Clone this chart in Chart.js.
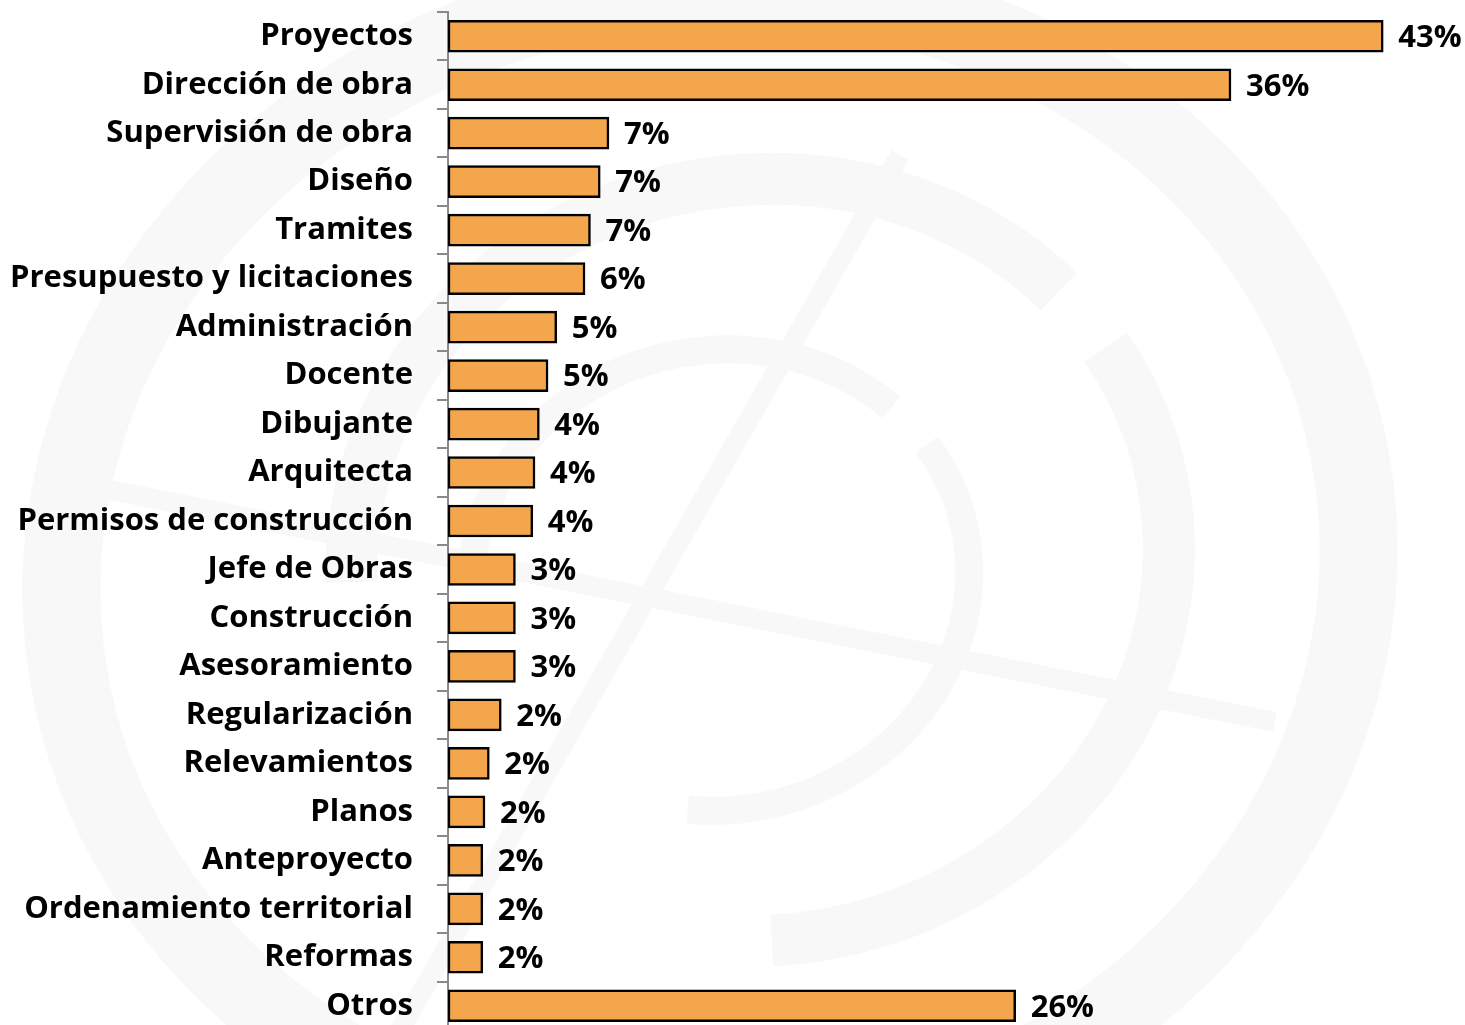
<!DOCTYPE html>
<html>
<head>
<meta charset="utf-8">
<script src="https://cdn.jsdelivr.net/npm/chart.js@4/dist/chart.umd.min.js"></script>
<style>
  html, body { margin: 0; padding: 0; background: #ffffff; overflow: hidden; }
  #wrap { position: absolute; left: 0; top: 0; width: 1465px; height: 1030px; }
</style>
</head>
<body>
<div id="wrap"><canvas id="c" width="1465" height="1030"></canvas></div>
<script>
const categories = [
  "Proyectos", "Dirección de obra", "Supervisión de obra", "Diseño", "Tramites",
  "Presupuesto y licitaciones", "Administración", "Docente", "Dibujante", "Arquitecta",
  "Permisos de construcción", "Jefe de Obras", "Construcción", "Asesoramiento",
  "Regularización", "Relevamientos", "Planos", "Anteproyecto",
  "Ordenamiento territorial", "Reformas", "Otros"
];
const percentages = [
  43.0, 36.0, 7.4, 7.0, 6.55,
  6.3, 5.0, 4.6, 4.2, 4.0,
  3.9, 3.1, 3.1, 3.1,
  2.45, 1.9, 1.7, 1.6,
  1.6, 1.6, 26.1
];

const FONT = "'Open Sans', Lato, sans-serif";

const watermark = {
  id: 'watermark',
  beforeDraw(chart) {
    const ctx = chart.ctx;
    ctx.save();
    ctx.strokeStyle = '#f8f8f8';
    ctx.lineCap = 'butt';
    ctx.lineWidth = 78;
    ctx.beginPath();
    ctx.ellipse(710, 570, 650, 580, -0.15, 0, Math.PI * 2);
    ctx.stroke();
    ctx.lineWidth = 52;
    ctx.beginPath();
    ctx.ellipse(760, 560, 410, 380, -0.2, Math.PI * 1.05, Math.PI * 1.82);
    ctx.stroke();
    ctx.beginPath();
    ctx.ellipse(760, 560, 410, 380, -0.2, Math.PI * 1.88, Math.PI * 2.55);
    ctx.stroke();
    ctx.lineWidth = 28;
    ctx.beginPath();
    ctx.ellipse(720, 580, 250, 230, -0.2, Math.PI * 1.1, Math.PI * 1.8);
    ctx.stroke();
    ctx.beginPath();
    ctx.ellipse(720, 580, 250, 230, -0.2, Math.PI * 1.87, Math.PI * 2.6);
    ctx.stroke();
    ctx.lineWidth = 20;
    ctx.beginPath();
    ctx.moveTo(100, 488);
    ctx.lineTo(1275, 722);
    ctx.stroke();
    ctx.beginPath();
    ctx.moveTo(900, 155);
    ctx.lineTo(400, 1030);
    ctx.stroke();
    ctx.restore();
  }
};

const valueLabels = {
  id: 'valueLabels',
  afterDatasetsDraw(chart) {
    const ctx = chart.ctx;
    const meta = chart.getDatasetMeta(0);
    ctx.save();
    ctx.font = "bold 31px " + FONT;
    ctx.fillStyle = '#000000';
    ctx.textAlign = 'left';
    ctx.textBaseline = 'middle';
    meta.data.forEach((bar, i) => {
      const v = chart.data.datasets[0].data[i];
      ctx.fillText(Math.round(v) + '%', bar.x + 15, bar.y + 2);
    });
    ctx.restore();
  }
};

new Chart(document.getElementById('c'), {
  type: 'bar',
  data: {
    labels: categories,
    datasets: [{
      data: percentages,
      backgroundColor: '#F3A64B',
      borderColor: '#000000',
      borderWidth: 2.5,
      borderSkipped: false,
      barThickness: 32
    }]
  },
  options: {
    indexAxis: 'y',
    responsive: false,
    animation: false,
    devicePixelRatio: 1,
    layout: { padding: { top: 12, right: 0, bottom: 0, left: 0 } },
    plugins: { legend: { display: false }, tooltip: { enabled: false } },
    scales: {
      x: {
        display: false,
        min: 0,
        max: 46.76
      },
      y: {
        afterFit(scale) { scale.width = 448; scale.paddingTop = 0; scale.paddingBottom = 0; },
        border: { display: true, color: '#8a8a8a', width: 2 },
        grid: { drawOnChartArea: false, drawTicks: true, tickLength: 11, color: '#8a8a8a', lineWidth: 2, offset: true },
        ticks: {
          padding: 24,
          color: '#000000',
          font: { family: FONT, size: 31, weight: 'bold' }
        }
      }
    }
  },
  plugins: [watermark, valueLabels]
});
</script>
</body>
</html>
